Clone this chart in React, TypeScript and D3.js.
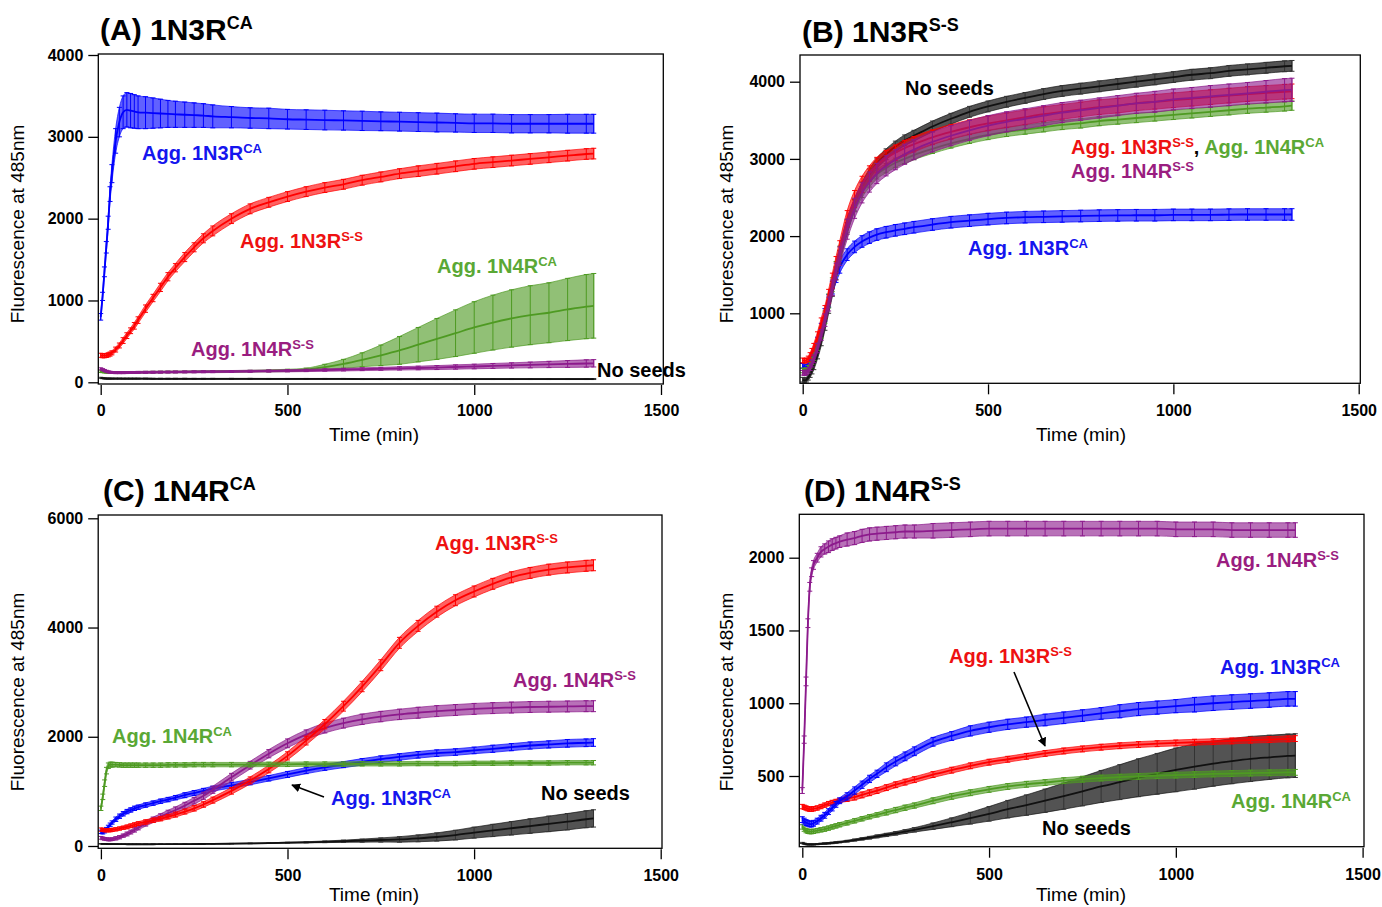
import React, { useEffect, useRef } from "react";
import * as d3 from "d3";

// sampling times (min), shared by every trace
const TIME = [0, 5, 10, 15, 20, 25, 30, 40, 50, 60, 70, 80, 90, 100, 120, 140, 160, 180, 200, 225, 250, 275, 300,
  350, 400, 450, 500, 550, 600, 650, 700, 750, 800, 850, 900, 950, 1000, 1050, 1100, 1150, 1200, 1250, 1300, 1320];

// (A) 1N3R CA
const A_CA3 = [800, 1050, 1350, 1650, 1950, 2300, 2550, 2950, 3180, 3300, 3330, 3320, 3310, 3300, 3295, 3290, 3285, 3280, 3275,
  3270, 3265, 3260, 3250, 3240, 3230, 3225, 3215, 3210, 3205, 3200, 3195, 3190, 3185, 3180, 3175, 3170, 3165, 3165, 3160, 3160, 3160, 3160, 3160, 3160];
const A_CA3_ERR = [40, 50, 60, 70, 80, 90, 110, 150, 180, 200, 210, 210, 205, 200, 195, 185, 175, 165, 160,
  155, 150, 145, 140, 130, 125, 125, 120, 120, 120, 118, 118, 115, 115, 115, 115, 112, 112, 112, 112, 112, 112, 115, 115, 115];
const A_SS3 = [330, 325, 325, 328, 335, 345, 360, 400, 450, 510, 570, 630, 690, 760, 900, 1030, 1160, 1290, 1400,
  1530, 1650, 1760, 1850, 2000, 2120, 2200, 2270, 2330, 2380, 2420, 2470, 2510, 2550, 2580, 2610, 2640, 2670, 2690, 2710, 2730, 2750, 2770, 2790, 2795];
const A_SS3_ERR = [25, 25, 25, 25, 25, 25, 25, 30, 30, 35, 35, 35, 40, 40, 45, 45, 50, 50, 50,
  55, 55, 55, 60, 60, 60, 60, 60, 60, 60, 60, 60, 60, 60, 65, 65, 65, 65, 65, 65, 65, 65, 65, 65, 65];
const A_CA4 = [130, 128, 125, 123, 122, 121, 120, 120, 120, 120, 120, 121, 121, 122, 123, 124, 125, 126, 127,
  128, 129, 130, 131, 133, 136, 140, 145, 155, 185, 225, 275, 330, 390, 460, 530, 600, 670, 730, 780, 820, 850, 890, 925, 935];
const A_CA4_ERR = [10, 10, 10, 10, 10, 10, 10, 10, 10, 10, 10, 10, 10, 10, 10, 10, 10, 10, 10,
  10, 10, 10, 10, 10, 10, 12, 14, 18, 35, 55, 85, 125, 170, 210, 250, 285, 315, 335, 350, 360, 366, 380, 392, 395];
const A_SS4 = [165, 155, 145, 135, 128, 123, 120, 118, 118, 118, 119, 120, 120, 121, 122, 123, 124, 125, 126,
  127, 128, 129, 130, 132, 135, 138, 141, 145, 150, 155, 160, 165, 170, 175, 180, 187, 193, 200, 206, 212, 218, 224, 230, 232];
const A_SS4_ERR = [12, 12, 12, 12, 12, 12, 12, 12, 12, 12, 12, 12, 12, 12, 12, 12, 12, 12, 12,
  12, 12, 12, 12, 12, 12, 13, 13, 14, 15, 16, 17, 18, 20, 22, 24, 26, 28, 30, 32, 35, 38, 42, 45, 45];
const A_NONE = [55, 50, 48, 46, 45, 45, 45, 45, 45, 44, 44, 44, 44, 44, 44, 43, 43, 43, 43,
  43, 42, 42, 42, 42, 42, 41, 41, 41, 41, 41, 40, 40, 40, 40, 40, 40, 40, 40, 40, 40, 40, 40, 40, 40];
const A_NONE_ERR = [6, 6, 6, 6, 6, 6, 6, 6, 6, 6, 6, 6, 6, 6, 6, 6, 6, 6, 6,
  6, 6, 6, 6, 6, 6, 6, 6, 6, 6, 6, 6, 6, 6, 6, 6, 6, 6, 6, 6, 6, 6, 6, 6, 6];

// (B) 1N3R S-S
const B_SS3 = [390, 385, 390, 410, 450, 500, 560, 700, 870, 1020, 1220, 1420, 1630, 1830, 2220, 2480, 2670, 2810, 2920,
  3010, 3080, 3140, 3190, 3280, 3350, 3410, 3460, 3500, 3540, 3580, 3610, 3640, 3670, 3690, 3720, 3740, 3760, 3780, 3800, 3820, 3840, 3855, 3870, 3875];
const B_SS3_ERR = [30, 30, 30, 35, 40, 45, 50, 60, 70, 80, 90, 100, 105, 110, 110, 110, 105, 100, 100,
  100, 100, 100, 100, 95, 95, 95, 95, 95, 95, 95, 95, 95, 95, 95, 95, 95, 95, 95, 95, 95, 95, 95, 95, 95];
const B_CA4 = [260, 255, 265, 290, 330, 380, 440, 580, 750, 950, 1160, 1370, 1580, 1780, 2130, 2390, 2570, 2700, 2800,
  2880, 2950, 3000, 3050, 3130, 3200, 3260, 3310, 3350, 3380, 3410, 3440, 3460, 3490, 3510, 3530, 3550, 3570, 3590, 3610, 3630, 3650, 3665, 3680, 3690];
const B_CA4_ERR = [30, 30, 30, 35, 40, 45, 50, 60, 70, 80, 90, 90, 90, 90, 80, 75, 70, 65, 60,
  60, 60, 60, 60, 60, 60, 60, 60, 60, 60, 60, 60, 60, 60, 60, 60, 60, 60, 60, 60, 60, 60, 60, 60, 60];
const B_SS4 = [230, 225, 235, 260, 300, 350, 410, 550, 720, 910, 1120, 1330, 1540, 1740, 2090, 2360, 2560, 2700, 2810,
  2910, 2990, 3060, 3120, 3220, 3300, 3370, 3430, 3480, 3520, 3560, 3600, 3630, 3660, 3690, 3720, 3740, 3770, 3790, 3810, 3830, 3850, 3870, 3890, 3895];
const B_SS4_ERR = [30, 30, 30, 35, 40, 45, 50, 60, 70, 80, 90, 100, 110, 120, 130, 130, 130, 130, 130,
  130, 130, 130, 130, 130, 130, 130, 130, 130, 130, 130, 130, 130, 130, 130, 130, 135, 135, 135, 140, 140, 140, 145, 150, 150];
const B_NONE = [140, 130, 140, 170, 210, 260, 320, 470, 650, 860, 1080, 1300, 1520, 1730, 2100, 2400, 2630, 2800, 2940,
  3060, 3160, 3240, 3300, 3420, 3520, 3610, 3680, 3740, 3790, 3840, 3880, 3910, 3940, 3970, 4000, 4030, 4060, 4090, 4110, 4140, 4160, 4180, 4200, 4205];
const B_NONE_ERR = [30, 30, 30, 35, 40, 45, 50, 60, 70, 80, 80, 80, 80, 80, 75, 75, 70, 70, 70,
  70, 70, 70, 70, 70, 70, 70, 70, 70, 70, 70, 70, 70, 70, 70, 70, 70, 70, 70, 70, 70, 70, 70, 70, 70];
const B_CA3 = [320, 300, 310, 340, 380, 430, 490, 630, 800, 980, 1160, 1330, 1480, 1600, 1760, 1860, 1930, 1980, 2020,
  2050, 2075, 2095, 2115, 2150, 2180, 2200, 2220, 2235, 2245, 2250, 2255, 2260, 2265, 2268, 2270, 2270, 2275, 2275, 2275, 2278, 2280, 2280, 2280, 2280];
const B_CA3_ERR = [30, 30, 30, 35, 40, 45, 50, 60, 70, 80, 80, 80, 80, 80, 75, 75, 75, 75, 75,
  75, 75, 75, 75, 75, 75, 75, 75, 75, 75, 75, 75, 75, 75, 75, 75, 75, 75, 75, 75, 75, 75, 75, 75, 75];

// (C) 1N4R CA
const C_SS3 = [300, 295, 290, 290, 290, 290, 295, 305, 320, 335, 350, 370, 390, 410, 440, 470, 500, 535, 575,
  630, 690, 760, 840, 1010, 1200, 1410, 1650, 1930, 2230, 2560, 2920, 3310, 3720, 4030, 4290, 4500, 4660, 4800, 4920, 5000, 5060, 5100, 5130, 5140];
const C_SS3_ERR = [30, 30, 30, 30, 30, 30, 30, 30, 30, 30, 35, 35, 35, 35, 40, 40, 40, 40, 45,
  45, 50, 50, 55, 60, 65, 70, 75, 80, 85, 90, 95, 100, 100, 100, 100, 100, 100, 100, 100, 100, 100, 100, 100, 100];
const C_SS4 = [150, 140, 130, 125, 120, 120, 125, 140, 160, 190, 220, 255, 295, 335, 410, 480, 540, 600, 660,
  740, 830, 920, 1030, 1260, 1480, 1690, 1880, 2040, 2160, 2250, 2320, 2370, 2410, 2440, 2470, 2490, 2510, 2525, 2535, 2545, 2550, 2555, 2560, 2560];
const C_SS4_ERR = [25, 25, 25, 25, 25, 25, 25, 30, 30, 30, 35, 35, 40, 40, 45, 50, 50, 55, 55,
  60, 60, 65, 65, 70, 70, 75, 80, 85, 90, 90, 95, 95, 95, 100, 100, 100, 100, 100, 100, 100, 100, 100, 100, 100];
const C_CA3 = [260, 250, 270, 310, 350, 390, 430, 490, 545, 590, 630, 660, 690, 710, 750, 785, 820, 850, 885,
  930, 970, 1010, 1050, 1110, 1170, 1240, 1310, 1380, 1440, 1490, 1540, 1590, 1630, 1670, 1700, 1720, 1750, 1780, 1810, 1840, 1860, 1880, 1890, 1895];
const C_CA3_ERR = [30, 30, 30, 30, 30, 30, 30, 40, 40, 40, 40, 40, 40, 40, 40, 40, 40, 40, 40,
  45, 45, 45, 45, 50, 50, 50, 55, 55, 55, 55, 60, 60, 60, 60, 60, 60, 60, 65, 65, 65, 65, 70, 70, 70];
const C_CA4 = [690, 900, 1150, 1380, 1470, 1490, 1490, 1490, 1485, 1480, 1480, 1480, 1480, 1480, 1480, 1480, 1480, 1485, 1485,
  1485, 1490, 1490, 1490, 1490, 1490, 1495, 1495, 1500, 1500, 1500, 1505, 1505, 1505, 1510, 1510, 1510, 1515, 1515, 1520, 1520, 1520, 1525, 1525, 1525];
const C_CA4_ERR = [40, 50, 60, 60, 50, 45, 45, 40, 40, 40, 40, 40, 40, 40, 40, 40, 40, 40, 40,
  40, 40, 40, 40, 40, 40, 40, 40, 40, 40, 40, 40, 40, 40, 40, 40, 40, 40, 40, 40, 40, 40, 40, 40, 40];
const C_NONE = [40, 40, 38, 37, 36, 35, 35, 34, 33, 33, 32, 32, 32, 32, 32, 32, 33, 33, 34,
  35, 36, 37, 38, 42, 47, 53, 60, 68, 77, 87, 98, 110, 120, 140, 165, 200, 245, 285, 325, 365, 405, 445, 490, 505];
const C_NONE_ERR = [5, 5, 5, 5, 5, 5, 5, 5, 5, 5, 5, 5, 5, 5, 5, 5, 5, 5, 5,
  5, 5, 5, 5, 5, 6, 7, 8, 10, 15, 20, 28, 38, 50, 62, 75, 88, 100, 112, 123, 133, 142, 150, 155, 158];

// (D) 1N4R S-S
const D_SS4 = [400, 750, 1150, 1550, 1800, 1900, 1950, 2000, 2040, 2060, 2075, 2090, 2100, 2110, 2125, 2135, 2150, 2160, 2165,
  2170, 2175, 2180, 2180, 2185, 2190, 2195, 2200, 2200, 2200, 2200, 2200, 2200, 2200, 2200, 2200, 2200, 2195, 2195, 2195, 2190, 2190, 2190, 2190, 2190];
const D_SS4_ERR = [20, 25, 30, 30, 30, 30, 30, 30, 35, 35, 40, 40, 40, 40, 45, 45, 45, 45, 45,
  45, 45, 45, 45, 50, 50, 50, 50, 50, 50, 50, 50, 50, 50, 50, 50, 50, 50, 50, 50, 50, 50, 50, 50, 50];
const D_CA3 = [200, 190, 180, 175, 170, 170, 175, 190, 210, 230, 255, 280, 305, 330, 360, 400, 440, 480, 515,
  560, 600, 635, 670, 735, 775, 810, 835, 855, 870, 885, 900, 915, 930, 945, 960, 970, 980, 990, 1000, 1008, 1015, 1022, 1030, 1030];
const D_CA3_ERR = [20, 20, 20, 20, 20, 20, 20, 20, 20, 20, 20, 20, 20, 20, 25, 25, 25, 25, 25,
  30, 30, 30, 30, 30, 30, 35, 35, 35, 35, 40, 40, 40, 40, 45, 45, 45, 45, 50, 50, 50, 50, 50, 50, 50];
const D_SS3 = [290, 285, 280, 275, 272, 272, 275, 280, 290, 300, 310, 318, 325, 332, 345, 355, 370, 385, 400,
  420, 440, 458, 475, 510, 540, 570, 595, 615, 635, 655, 672, 686, 698, 708, 716, 722, 727, 732, 736, 741, 746, 750, 755, 757];
const D_SS3_ERR = [15, 15, 15, 15, 15, 15, 15, 15, 15, 15, 15, 15, 15, 15, 20, 20, 20, 20, 20,
  20, 20, 20, 20, 20, 20, 20, 20, 20, 20, 20, 20, 20, 20, 20, 20, 20, 20, 20, 20, 20, 20, 20, 20, 20];
const D_CA4 = [150, 135, 125, 120, 118, 118, 120, 125, 130, 135, 142, 150, 157, 165, 178, 192, 206, 220, 233,
  250, 266, 282, 297, 330, 360, 385, 408, 428, 443, 455, 468, 478, 486, 492, 497, 502, 506, 510, 514, 517, 520, 522, 525, 525];
const D_CA4_ERR = [15, 15, 15, 15, 15, 15, 15, 15, 15, 15, 15, 15, 15, 15, 15, 15, 15, 15, 15,
  18, 18, 18, 18, 20, 20, 20, 20, 20, 20, 20, 20, 20, 20, 20, 20, 20, 20, 20, 20, 20, 20, 20, 20, 20];
const D_NONE = [40, 35, 32, 30, 30, 30, 30, 32, 34, 36, 38, 40, 43, 46, 52, 60, 68, 76, 85,
  95, 106, 118, 130, 155, 182, 210, 240, 272, 300, 330, 362, 395, 428, 458, 488, 515, 542, 565, 585, 602, 617, 628, 638, 640];
const D_NONE_ERR = [4, 4, 4, 4, 4, 4, 4, 4, 4, 5, 5, 5, 5, 5, 6, 7, 8, 9, 10,
  11, 12, 13, 15, 22, 30, 40, 50, 60, 70, 80, 90, 100, 110, 120, 130, 140, 150, 155, 155, 155, 155, 152, 150, 150];

const X_TICKS = [0, 500, 1000, 1500];
const A_Y_TICKS = [0, 1000, 2000, 3000, 4000];
const B_Y_TICKS = [1000, 2000, 3000, 4000];
const C_Y_TICKS = [0, 2000, 4000, 6000];
const D_Y_TICKS = [500, 1000, 1500, 2000];

const COL: Record<string, string> = {
  ca3: "#0000ff", ss3: "#ff0000", ca4: "#4e9a22", ss4: "#8c1a8c", none: "#111111",
};
const LABEL_COL: Record<string, string> = {
  ca3: "#1515ee", ss3: "#ee1111", ca4: "#5aa835", ss4: "#9a1d80", none: "#000000",
};

const FONT = "'Liberation Sans', Arial, Helvetica, sans-serif";

type Part = { t: string; c: string; sup?: boolean };
type Label = { x: number; y: number; parts: Part[] };

const panels = [
  {
    id: "A", title: "(A) 1N3R", sup: "CA", tx: 100, ty: 40,
    box: [98.3, 54, 663.3, 384], xr: [100.7, 661], yd: [0, 4000], yr: [382.3, 55], yTicks: A_Y_TICKS,
    xLabY: 416, xTitY: 441, xTitX: 374, yTitX: 24, yTitY: 224,
    series: [
      { v: A_NONE, e: A_NONE_ERR, k: "none" }, { v: A_CA4, e: A_CA4_ERR, k: "ca4" }, { v: A_SS4, e: A_SS4_ERR, k: "ss4" },
      { v: A_SS3, e: A_SS3_ERR, k: "ss3" }, { v: A_CA3, e: A_CA3_ERR, k: "ca3" },
    ],
    labels: [
      { x: 142, y: 160, parts: [{ t: "Agg. 1N3R", c: "ca3" }, { t: "CA", c: "ca3", sup: true }] },
      { x: 240, y: 248, parts: [{ t: "Agg. 1N3R", c: "ss3" }, { t: "S-S", c: "ss3", sup: true }] },
      { x: 437, y: 273, parts: [{ t: "Agg. 1N4R", c: "ca4" }, { t: "CA", c: "ca4", sup: true }] },
      { x: 191, y: 356, parts: [{ t: "Agg. 1N4R", c: "ss4" }, { t: "S-S", c: "ss4", sup: true }] },
      { x: 597, y: 377, parts: [{ t: "No seeds", c: "none" }] },
    ] as Label[],
    arrow: null as null | number[],
  },
  {
    id: "B", title: "(B) 1N3R", sup: "S-S", tx: 802, ty: 42,
    box: [800, 55, 1360.3, 383.3], xr: [802.7, 1358.7], yd: [1000, 4000], yr: [313.3, 81.7], yTicks: B_Y_TICKS,
    xLabY: 416, xTitY: 441, xTitX: 1081, yTitX: 733, yTitY: 224,
    series: [
      { v: B_CA3, e: B_CA3_ERR, k: "ca3" }, { v: B_NONE, e: B_NONE_ERR, k: "none" }, { v: B_CA4, e: B_CA4_ERR, k: "ca4" },
      { v: B_SS3, e: B_SS3_ERR, k: "ss3" }, { v: B_SS4, e: B_SS4_ERR, k: "ss4" },
    ],
    labels: [
      { x: 905, y: 95, parts: [{ t: "No seeds", c: "none" }] },
      {
        x: 1071, y: 154, parts: [{ t: "Agg. 1N3R", c: "ss3" }, { t: "S-S", c: "ss3", sup: true }, { t: ", ", c: "none" },
          { t: "Agg. 1N4R", c: "ca4" }, { t: "CA", c: "ca4", sup: true }],
      },
      { x: 1071, y: 178, parts: [{ t: "Agg. 1N4R", c: "ss4" }, { t: "S-S", c: "ss4", sup: true }] },
      { x: 968, y: 255, parts: [{ t: "Agg. 1N3R", c: "ca3" }, { t: "CA", c: "ca3", sup: true }] },
    ] as Label[],
    arrow: null as null | number[],
  },
  {
    id: "C", title: "(C) 1N4R", sup: "CA", tx: 103, ty: 501,
    box: [98.2, 515, 662, 848.3], xr: [100.9, 660.7], yd: [0, 6000], yr: [846, 518.3], yTicks: C_Y_TICKS,
    xLabY: 881, xTitY: 901, xTitX: 374, yTitX: 24, yTitY: 692,
    series: [
      { v: C_NONE, e: C_NONE_ERR, k: "none" }, { v: C_CA3, e: C_CA3_ERR, k: "ca3" }, { v: C_SS4, e: C_SS4_ERR, k: "ss4" },
      { v: C_SS3, e: C_SS3_ERR, k: "ss3" }, { v: C_CA4, e: C_CA4_ERR, k: "ca4" },
    ],
    labels: [
      { x: 435, y: 550, parts: [{ t: "Agg. 1N3R", c: "ss3" }, { t: "S-S", c: "ss3", sup: true }] },
      { x: 513, y: 687, parts: [{ t: "Agg. 1N4R", c: "ss4" }, { t: "S-S", c: "ss4", sup: true }] },
      { x: 112, y: 743, parts: [{ t: "Agg. 1N4R", c: "ca4" }, { t: "CA", c: "ca4", sup: true }] },
      { x: 331, y: 805, parts: [{ t: "Agg. 1N3R", c: "ca3" }, { t: "CA", c: "ca3", sup: true }] },
      { x: 541, y: 800, parts: [{ t: "No seeds", c: "none" }] },
    ] as Label[],
    arrow: [324, 797, 292, 785] as null | number[],
  },
  {
    id: "D", title: "(D) 1N4R", sup: "S-S", tx: 804, ty: 501,
    box: [799.3, 514.3, 1364, 846.7], xr: [802.3, 1362.6], yd: [500, 2000], yr: [776, 557.7], yTicks: D_Y_TICKS,
    xLabY: 880, xTitY: 901, xTitX: 1081, yTitX: 733, yTitY: 692,
    series: [
      { v: D_NONE, e: D_NONE_ERR, k: "none" }, { v: D_CA4, e: D_CA4_ERR, k: "ca4" }, { v: D_SS3, e: D_SS3_ERR, k: "ss3" },
      { v: D_CA3, e: D_CA3_ERR, k: "ca3" }, { v: D_SS4, e: D_SS4_ERR, k: "ss4" },
    ],
    labels: [
      { x: 1216, y: 567, parts: [{ t: "Agg. 1N4R", c: "ss4" }, { t: "S-S", c: "ss4", sup: true }] },
      { x: 949, y: 663, parts: [{ t: "Agg. 1N3R", c: "ss3" }, { t: "S-S", c: "ss3", sup: true }] },
      { x: 1220, y: 674, parts: [{ t: "Agg. 1N3R", c: "ca3" }, { t: "CA", c: "ca3", sup: true }] },
      { x: 1231, y: 808, parts: [{ t: "Agg. 1N4R", c: "ca4" }, { t: "CA", c: "ca4", sup: true }] },
      { x: 1042, y: 835, parts: [{ t: "No seeds", c: "none" }] },
    ] as Label[],
    arrow: [1014, 672, 1045, 746] as null | number[],
  },
];

export default function App() {
  const ref = useRef<SVGSVGElement>(null);

  useEffect(() => {
    const svg = d3.select(ref.current);
    svg.selectAll("*").remove();

    const defs = svg.append("defs");
    defs.append("marker")
      .attr("id", "arrowhead")
      .attr("viewBox", "0 0 10 10")
      .attr("refX", 9).attr("refY", 5)
      .attr("markerWidth", 9).attr("markerHeight", 9)
      .attr("markerUnits", "userSpaceOnUse")
      .attr("orient", "auto")
      .append("path").attr("d", "M0,0 L10,5 L0,10 z").attr("fill", "#000");

    panels.forEach((p) => {
      const [bx0, by0, bx1, by1] = p.box;
      const x = d3.scaleLinear().domain([0, 1500]).range(p.xr);
      const y = d3.scaleLinear().domain(p.yd).range(p.yr);
      const g = svg.append("g");

      defs.append("clipPath").attr("id", "clip" + p.id)
        .append("rect").attr("x", bx0).attr("y", by0).attr("width", bx1 - bx0).attr("height", by1 - by0);

      // data traces: band of +/- error, error bars, mean line
      const plot = g.append("g").attr("clip-path", `url(#clip${p.id})`);
      p.series.forEach((s) => {
        const col = COL[s.k];
        const pts = TIME.map((t, i) => ({ t, v: s.v[i], e: s.e[i] }));
        const band = d3.area<any>()
          .x((d) => x(d.t)).y0((d) => y(d.v - d.e)).y1((d) => y(d.v + d.e))
          .curve(d3.curveMonotoneX);
        plot.append("path").attr("d", band(pts)!).attr("fill", col)
          .attr("fill-opacity", s.k === "none" ? 0.72 : 0.62)
          .attr("stroke", col).attr("stroke-opacity", 0.85).attr("stroke-width", 0.8);
        let bars = "";
        pts.forEach((d) => {
          const px = x(d.t), lo = y(d.v - d.e), hi = y(d.v + d.e);
          bars += `M${px},${lo}V${hi}M${px - 2.5},${lo}H${px + 2.5}M${px - 2.5},${hi}H${px + 2.5}`;
        });
        plot.append("path").attr("d", bars).attr("fill", "none")
          .attr("stroke", s.k === "none" ? "#333" : col).attr("stroke-width", 1);
        const line = d3.line<any>().x((d) => x(d.t)).y((d) => y(d.v)).curve(d3.curveMonotoneX);
        plot.append("path").attr("d", line(pts)!).attr("fill", "none").attr("stroke", col).attr("stroke-width", 1.8);
      });

      // frame
      g.append("rect").attr("x", bx0).attr("y", by0).attr("width", bx1 - bx0).attr("height", by1 - by0)
        .attr("fill", "none").attr("stroke", "#000").attr("stroke-width", 1.3);

      // y axis
      const yAxis = g.append("g").attr("transform", `translate(${bx0},0)`)
        .call(d3.axisLeft(y).tickValues(p.yTicks).tickSize(10).tickPadding(5).tickFormat(d3.format("d")));
      yAxis.select(".domain").remove();
      yAxis.selectAll("line").attr("stroke-width", 1.3);
      yAxis.selectAll("text").attr("font-family", FONT).attr("font-size", 16).attr("font-weight", "bold").attr("fill", "#000");

      // x axis
      const xAxis = g.append("g").attr("transform", `translate(0,${by1 + 1})`)
        .call(d3.axisBottom(x).tickValues(X_TICKS).tickSize(10).tickPadding(5).tickFormat(d3.format("d")));
      xAxis.select(".domain").remove();
      xAxis.selectAll("line").attr("stroke-width", 1.3);
      xAxis.selectAll("text").attr("font-family", FONT).attr("font-size", 16).attr("font-weight", "bold").attr("fill", "#000")
        .attr("dy", null).attr("y", p.xLabY - by1 - 1);

      // axis titles
      g.append("text").attr("x", p.xTitX).attr("y", p.xTitY).attr("text-anchor", "middle")
        .attr("font-family", FONT).attr("font-size", 19).text("Time (min)");
      g.append("text").attr("transform", `translate(${p.yTitX},${p.yTitY}) rotate(-90)`).attr("text-anchor", "middle")
        .attr("font-family", FONT).attr("font-size", 19).text("Fluorescence at 485nm");

      // panel title
      const tt = g.append("text").attr("x", p.tx).attr("y", p.ty)
        .attr("font-family", FONT).attr("font-weight", "bold").attr("font-size", 30);
      tt.append("tspan").text(p.title);
      tt.append("tspan").attr("dy", -11).attr("font-size", 18).text(p.sup);

      // curve labels
      p.labels.forEach((l) => {
        const txt = g.append("text").attr("x", l.x).attr("y", l.y)
          .attr("font-family", FONT).attr("font-weight", "bold").attr("font-size", 20);
        let raised = false;
        l.parts.forEach((pt) => {
          const sp = txt.append("tspan").attr("fill", LABEL_COL[pt.c]).text(pt.t);
          if (pt.sup && !raised) { sp.attr("dy", -7).attr("font-size", 13); raised = true; }
          else if (pt.sup) { sp.attr("font-size", 13); }
          else if (raised) { sp.attr("dy", 7); raised = false; }
        });
      });

      if (p.arrow) {
        g.append("line").attr("x1", p.arrow[0]).attr("y1", p.arrow[1]).attr("x2", p.arrow[2]).attr("y2", p.arrow[3])
          .attr("stroke", "#000").attr("stroke-width", 1.6).attr("marker-end", "url(#arrowhead)");
      }
    });
  }, []);

  return (
    <svg ref={ref} width={1382} height={907} style={{ position: "absolute", left: 0, top: 0, background: "#fff" }} />
  );
}
